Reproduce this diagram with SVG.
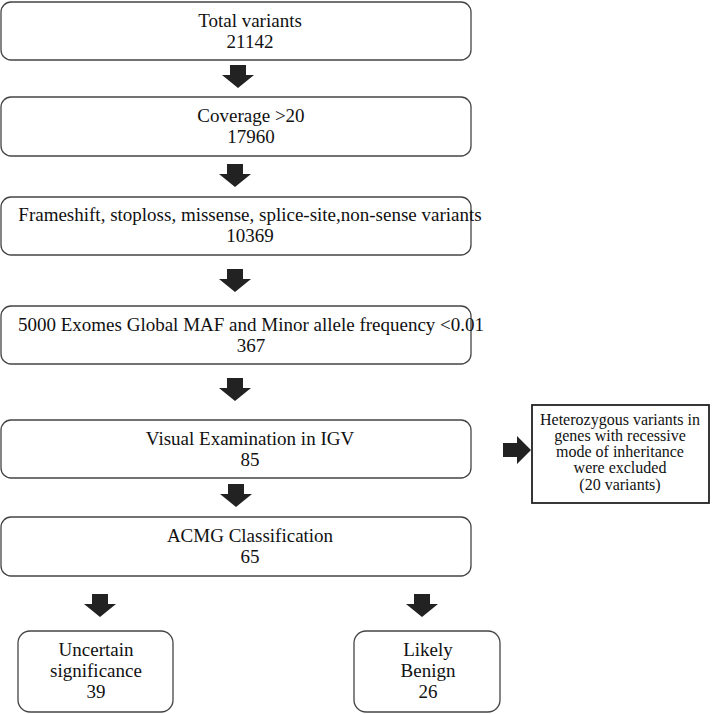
<svg xmlns="http://www.w3.org/2000/svg" width="712" height="714" viewBox="0 0 712 714">
<defs><style>
.b{fill:#fff;stroke:#444;stroke-width:1.3}
.t{font-family:"Liberation Serif","Times New Roman","DejaVu Serif",serif;font-size:19px;fill:#111;text-anchor:middle}
.s{font-family:"Liberation Serif","Times New Roman","DejaVu Serif",serif;font-size:16px;fill:#111;text-anchor:middle}
.a{fill:#222}
</style>
<path id="ad" d="M-8,0 H8 V10 H16 L0,23 L-16,10 H-8 Z"/></defs>
<rect width="712" height="714" fill="#fff"/>
<g id="n1"><rect class="b" x="1" y="2" width="470" height="58" rx="10"/><text class="t" x="250" y="27">Total variants</text><text class="t" x="250" y="48">21142</text></g>
<g id="n2"><rect class="b" x="1" y="97" width="470" height="59" rx="10"/><text class="t" x="251" y="122">Coverage &gt;20</text><text class="t" x="251" y="143">17960</text></g>
<g id="n3"><rect class="b" x="1" y="197" width="470" height="58" rx="10"/><text class="t" x="250" y="221">Frameshift, stoploss, missense, splice-site,non-sense variants</text><text class="t" x="250" y="242">10369</text></g>
<g id="n4"><rect class="b" x="1" y="306" width="470" height="58" rx="10"/><text class="t" x="251" y="331">5000 Exomes Global MAF and Minor allele frequency &lt;0.01</text><text class="t" x="251" y="352">367</text></g>
<g id="n5"><rect class="b" x="1" y="420" width="470" height="58" rx="10"/><text class="t" x="250" y="445">Visual Examination in IGV</text><text class="t" x="250" y="466">85</text></g>
<g id="n6"><rect class="b" x="1" y="517" width="470" height="59" rx="10"/><text class="t" x="250" y="542">ACMG Classification</text><text class="t" x="250" y="563">65</text></g>
<g id="n7"><rect class="b" x="18" y="631" width="155" height="81" rx="12"/><text class="t" x="96" y="656">Uncertain</text><text class="t" x="96" y="677">significance</text><text class="t" x="96" y="698">39</text></g>
<g id="n8"><rect class="b" x="354" y="631" width="146" height="81" rx="12"/><text class="t" x="428" y="656">Likely</text><text class="t" x="428" y="677">Benign</text><text class="t" x="428" y="698">26</text></g>
<g id="n9"><rect x="532" y="405" width="177" height="98" fill="#fff" stroke="#222" stroke-width="1.8"/><text class="s" x="620" y="425">Heterozygous variants in</text><text class="s" x="620" y="441">genes with recessive</text><text class="s" x="620" y="457">mode of inheritance</text><text class="s" x="620" y="473">were excluded</text><text class="s" x="620" y="490">(20 variants)</text></g>
<g id="connectors" class="a">
<use href="#ad" x="238" y="65"/>
<use href="#ad" x="235" y="164"/>
<use href="#ad" x="235" y="269"/>
<use href="#ad" x="235" y="378"/>
<use href="#ad" x="236" y="484"/>
<use href="#ad" x="100" y="594"/>
<use href="#ad" x="422" y="594"/>
<path d="M503,443 H517 V436 L531,450 L517,464 V457 H503 Z"/>
</g>
</svg>
